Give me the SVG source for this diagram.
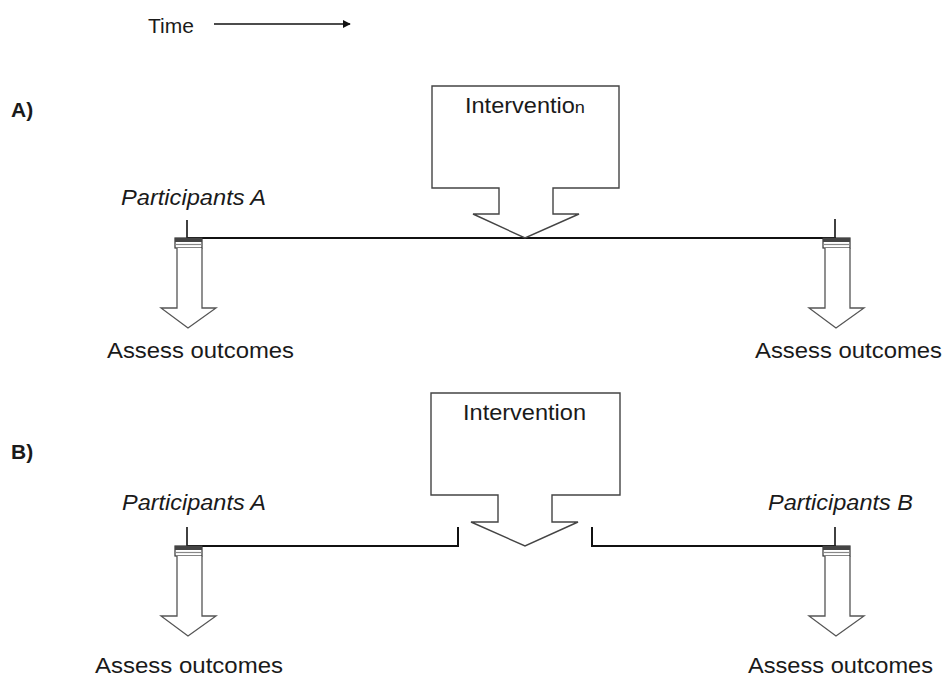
<svg xmlns="http://www.w3.org/2000/svg" width="944" height="677" viewBox="0 0 944 677">
<style>
text{font-family:"Liberation Sans",Arial,sans-serif;fill:#1a1a1a}
.lbl{font-size:22px}
.it{font-size:22px;font-style:italic}
.sec{font-size:21px;font-weight:bold}
.box{fill:#fff;stroke:#444;stroke-width:1.4}
.arr{fill:#fff;stroke:#555;stroke-width:1.3}
.line{stroke:#111;stroke-width:2;fill:none}
.tick{stroke:#111;stroke-width:1.6}
</style>
<defs>
<marker id="ah" viewBox="0 0 10 10" refX="9" refY="5" markerWidth="8" markerHeight="8" markerUnits="userSpaceOnUse" orient="auto">
<path d="M0,0 L10,5 L0,10 Z" fill="#111"/>
</marker>
<g id="cap">
<rect x="-13" y="0" width="27" height="10" fill="#fff" stroke="#333" stroke-width="1.2"/>
<rect x="-13" y="0" width="27" height="4" fill="#444"/>
<line x1="-13" y1="6.5" x2="14" y2="6.5" stroke="#888" stroke-width="1.2"/>
</g>
<path id="down" d="M-11,0 V60 H-27 L0,80 L28,60 H14 V0"/>
</defs>

<g id="time">
<text class="lbl" x="148" y="33" style="font-size:21px">Time</text>
</g>
<g id="labelA"><text class="sec" x="11" y="117">A)</text></g>
<g id="labelB"><text class="sec" x="11" y="459">B)</text></g>

<g id="connectors">
<line x1="214" y1="24" x2="350" y2="24" stroke="#111" stroke-width="1.6" marker-end="url(#ah)"/>
<line class="line" x1="187" y1="238" x2="836" y2="238"/>
<line class="tick" x1="187" y1="220" x2="187" y2="238"/>
<line class="tick" x1="835" y1="219" x2="835" y2="238"/>
<path class="line" d="M187,546 H458 V527"/>
<path class="line" d="M592,527 V546 H836"/>
<line class="tick" x1="187" y1="527" x2="187" y2="546"/>
<line class="tick" x1="835" y1="527" x2="835" y2="546"/>
</g>

<g id="interventionA">
<path class="box" d="M432,86 H619 V188 H553 V214 H579 L525,238 L473,214 H499 V188 H432 Z"/>
<text class="lbl" x="465" y="113" textLength="120" lengthAdjust="spacingAndGlyphs">Interventio<tspan style="font-size:17px">n</tspan></text>
</g>

<g id="participantsA1">
<text class="it" x="121" y="205" textLength="145" lengthAdjust="spacingAndGlyphs">Participants A</text>
</g>
<g id="assessA1">
<use href="#cap" x="188" y="238"/>
<use href="#down" x="188" y="248" class="arr"/>
<text class="lbl" x="107" y="358" textLength="187" lengthAdjust="spacingAndGlyphs">Assess outcomes</text>
</g>
<g id="assessA2">
<use href="#cap" x="836" y="238"/>
<use href="#down" x="836" y="248" class="arr"/>
<text class="lbl" x="755" y="358" textLength="187" lengthAdjust="spacingAndGlyphs">Assess outcomes</text>
</g>

<g id="interventionB">
<path class="box" d="M431,393 H620 V495 H552 V522 H578 L525,546 L471,522 H498 V495 H431 Z"/>
<text class="lbl" x="463" y="420" textLength="123" lengthAdjust="spacingAndGlyphs">Intervention</text>
</g>

<g id="participantsB1">
<text class="it" x="122" y="510" textLength="144" lengthAdjust="spacingAndGlyphs">Participants A</text>
</g>
<g id="participantsB2">
<text class="it" x="768" y="510" textLength="145" lengthAdjust="spacingAndGlyphs">Participants B</text>
</g>
<g id="assessB1">
<use href="#cap" x="188" y="546"/>
<use href="#down" x="188" y="556" class="arr"/>
<text class="lbl" x="95" y="673" textLength="188" lengthAdjust="spacingAndGlyphs">Assess outcomes</text>
</g>
<g id="assessB2">
<use href="#cap" x="836" y="546"/>
<use href="#down" x="836" y="556" class="arr"/>
<text class="lbl" x="748" y="673" textLength="185" lengthAdjust="spacingAndGlyphs">Assess outcomes</text>
</g>
</svg>
